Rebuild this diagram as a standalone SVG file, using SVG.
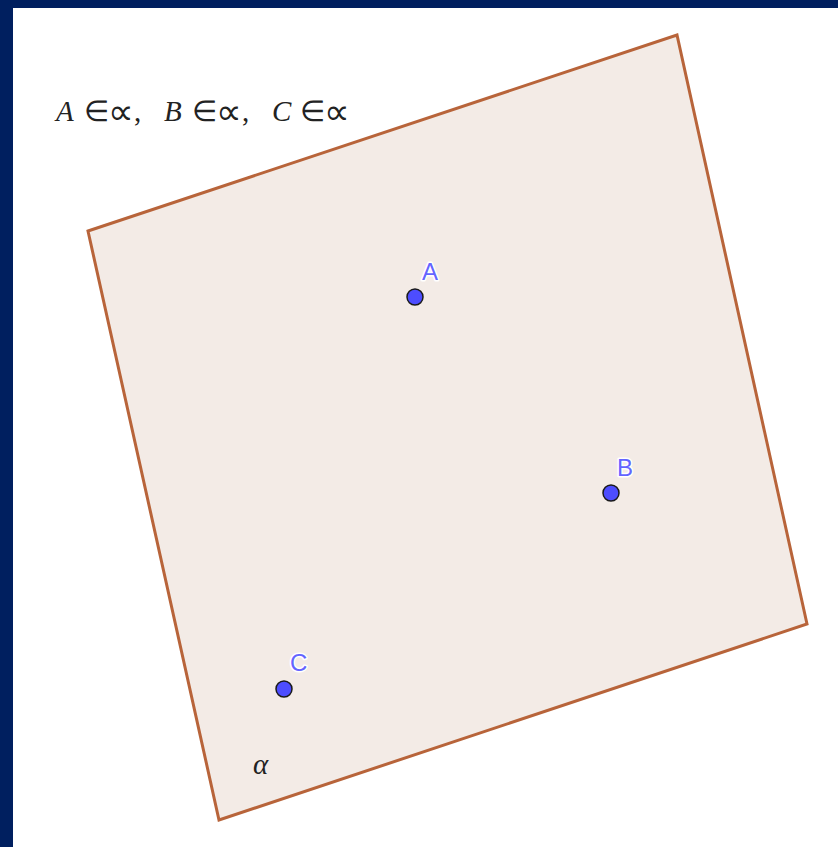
<svg xmlns="http://www.w3.org/2000/svg" width="838" height="847" viewBox="0 0 838 847">
<style>
.pt{fill:#4d4dff;stroke:#1a1a1a;stroke-width:1.5}
.lbl{font-family:"Liberation Sans",Arial,sans-serif;font-size:24px;fill:#6464ff;stroke:#ffffff;stroke-width:3;paint-order:stroke;stroke-linejoin:round}
.math{font-family:"Liberation Serif","Times New Roman",serif;font-size:29px;fill:#222}
.it{font-style:italic}
.prop{font-size:36px}
</style>
<rect x="0" y="0" width="838" height="847" fill="#ffffff"/>
<rect x="0" y="0" width="838" height="8" fill="#001f5f"/>
<rect x="0" y="0" width="13" height="847" fill="#001f5f"/>
<g id="plane">
<polygon points="88,231 677,35 807,624 219,820" fill="#f3ebe6" stroke="#b8643a" stroke-width="3" stroke-linejoin="miter"/>
</g>
<g id="connectors"></g>
<g id="pointA"><circle class="pt" cx="415" cy="297" r="8"/><text class="lbl" x="422" y="280">A</text></g>
<g id="pointB"><circle class="pt" cx="611" cy="493" r="8"/><text class="lbl" x="617" y="476">B</text></g>
<g id="pointC"><circle class="pt" cx="284" cy="689" r="8"/><text class="lbl" x="290" y="671">C</text></g>
<g id="formula">
<text class="math" y="121"><tspan class="it" x="56">A</tspan><tspan x="84">∈</tspan><tspan class="prop" x="108" y="124">∝</tspan><tspan x="134" y="121">,</tspan><tspan class="it" x="164">B</tspan><tspan x="192">∈</tspan><tspan class="prop" x="216" y="124">∝</tspan><tspan x="242" y="121">,</tspan><tspan class="it" x="272">C</tspan><tspan x="300">∈</tspan><tspan class="prop" x="324" y="124">∝</tspan></text>
</g>
<g id="alpha"><text class="math" x="253" y="774" font-style="italic" font-size="27">α</text></g>
</svg>
